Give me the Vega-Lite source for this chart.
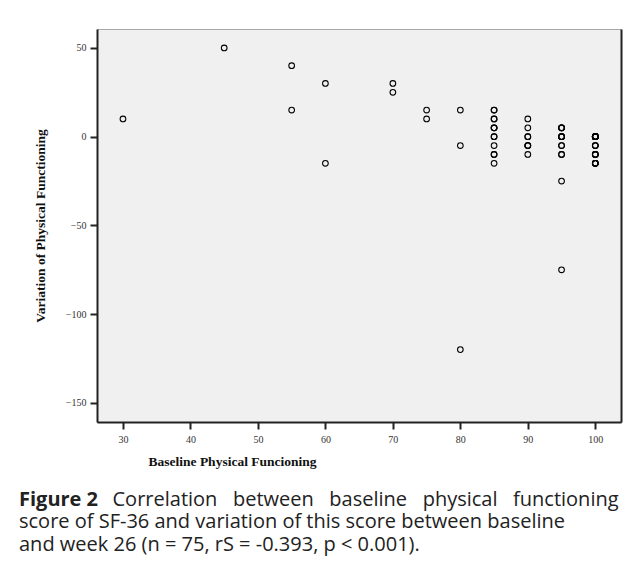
{
  "$schema": "https://vega.github.io/schema/vega-lite/v6.json",
  "width": 524,
  "height": 393,
  "autosize": {"type": "none"},
  "padding": {"left": 97, "top": 29, "right": 7, "bottom": 145},
  "background": "white",
  "config": {
    "view": {"fill": "#f0f0f0", "stroke": "#a8a8a8", "strokeWidth": 1}
  },
  "title": {
    "text": "Figure 2",
    "subtitle": [
      "\u200b\u00a0\u00a0\u00a0\u00a0\u00a0\u00a0\u00a0\u00a0\u00a0\u00a0\u00a0\u00a0\u00a0\u00a0\u00a0\u00a0\u00a0\u00a0Correlation \u00a0\u00a0between \u00a0\u00a0baseline \u00a0\u00a0physical \u00a0\u00a0functioning",
      "score of SF-36 and variation of this score between baseline",
      "and week 26 (n = 75, rS = -0.393, p < 0.001)."
    ],
    "orient": "bottom",
    "anchor": "start",
    "frame": "group",
    "dx": -78,
    "offset": 22,
    "font": "Open Sans",
    "fontSize": 20,
    "fontWeight": "bold",
    "color": "#222222",
    "subtitleFont": "Open Sans",
    "subtitleFontSize": 20,
    "subtitleFontWeight": "normal",
    "subtitleColor": "#222222",
    "subtitleLineHeight": 22.5,
    "subtitlePadding": -20
  },
  "data": {
    "values": [
      {"baseline": 30, "variation": 10},
      {"baseline": 45, "variation": 50},
      {"baseline": 55, "variation": 40},
      {"baseline": 55, "variation": 15},
      {"baseline": 60, "variation": 30},
      {"baseline": 60, "variation": -15},
      {"baseline": 70, "variation": 30},
      {"baseline": 70, "variation": 25},
      {"baseline": 75, "variation": 15},
      {"baseline": 75, "variation": 10},
      {"baseline": 80, "variation": 15},
      {"baseline": 80, "variation": -5},
      {"baseline": 80, "variation": -120},
      {"baseline": 85, "variation": 15},
      {"baseline": 85, "variation": 15},
      {"baseline": 85, "variation": 10},
      {"baseline": 85, "variation": 10},
      {"baseline": 85, "variation": 5},
      {"baseline": 85, "variation": 5},
      {"baseline": 85, "variation": 5},
      {"baseline": 85, "variation": 0},
      {"baseline": 85, "variation": 0},
      {"baseline": 85, "variation": -5},
      {"baseline": 85, "variation": -10},
      {"baseline": 85, "variation": -10},
      {"baseline": 85, "variation": -15},
      {"baseline": 90, "variation": 10},
      {"baseline": 90, "variation": 5},
      {"baseline": 90, "variation": 0},
      {"baseline": 90, "variation": 0},
      {"baseline": 90, "variation": -5},
      {"baseline": 90, "variation": -5},
      {"baseline": 90, "variation": -5},
      {"baseline": 90, "variation": -10},
      {"baseline": 95, "variation": 5},
      {"baseline": 95, "variation": 5},
      {"baseline": 95, "variation": 5},
      {"baseline": 95, "variation": 5},
      {"baseline": 95, "variation": 0},
      {"baseline": 95, "variation": 0},
      {"baseline": 95, "variation": 0},
      {"baseline": 95, "variation": 0},
      {"baseline": 95, "variation": -5},
      {"baseline": 95, "variation": -5},
      {"baseline": 95, "variation": -10},
      {"baseline": 95, "variation": -10},
      {"baseline": 95, "variation": -25},
      {"baseline": 95, "variation": -75},
      {"baseline": 100, "variation": 0},
      {"baseline": 100, "variation": 0},
      {"baseline": 100, "variation": 0},
      {"baseline": 100, "variation": 0},
      {"baseline": 100, "variation": 0},
      {"baseline": 100, "variation": 0},
      {"baseline": 100, "variation": 0},
      {"baseline": 100, "variation": 0},
      {"baseline": 100, "variation": 0},
      {"baseline": 100, "variation": 0},
      {"baseline": 100, "variation": 0},
      {"baseline": 100, "variation": 0},
      {"baseline": 100, "variation": 0},
      {"baseline": 100, "variation": 0},
      {"baseline": 100, "variation": 0},
      {"baseline": 100, "variation": -5},
      {"baseline": 100, "variation": -5},
      {"baseline": 100, "variation": -5},
      {"baseline": 100, "variation": -10},
      {"baseline": 100, "variation": -10},
      {"baseline": 100, "variation": -10},
      {"baseline": 100, "variation": -10},
      {"baseline": 100, "variation": -15},
      {"baseline": 100, "variation": -15},
      {"baseline": 100, "variation": -15},
      {"baseline": 100, "variation": -15},
      {"baseline": 100, "variation": -15}
    ]
  },
  "layer": [
    {
      "mark": {"type": "point", "shape": "circle", "filled": false, "size": 32, "strokeWidth": 1.1, "color": "#000000", "opacity": 1},
      "encoding": {
        "x": {
          "field": "baseline",
          "type": "quantitative",
          "scale": {"domain": [26.15, 103.81], "nice": false, "zero": false},
          "axis": {
            "values": [30, 40, 50, 60, 70, 80, 90, 100],
            "grid": false,
            "domainColor": "#222222",
            "domainWidth": 2,
            "tickColor": "#222222",
            "tickWidth": 2,
            "tickSize": 7,
            "labelFont": "Liberation Serif",
            "labelFontSize": 10,
            "labelColor": "#333333",
            "labelPadding": 5,
            "title": "Baseline Physical Funcioning",
            "titleFont": "Liberation Serif",
            "titleFontSize": 13.5,
            "titleFontWeight": "bold",
            "titleColor": "#111111",
            "titleAnchor": "start",
            "titleAlign": "left",
            "titleBaseline": "middle",
            "titleX": 51,
            "titleY": 39
          }
        },
        "y": {
          "field": "variation",
          "type": "quantitative",
          "scale": {"domain": [-160.8, 60.7], "nice": false, "zero": false},
          "axis": {
            "orient": "left",
            "values": [50, 0, -50, -100, -150],
            "grid": false,
            "domainColor": "#222222",
            "domainWidth": 2,
            "tickColor": "#222222",
            "tickWidth": 2,
            "tickSize": 7,
            "labelFont": "Liberation Serif",
            "labelFontSize": 10,
            "labelColor": "#333333",
            "labelPadding": 4,
            "title": "Variation of Physical Functioning",
            "titleFont": "Liberation Serif",
            "titleFontSize": 13.5,
            "titleFontWeight": "bold",
            "titleColor": "#111111",
            "titlePadding": 18
          }
        }
      }
    },
    {
      "mark": {"type": "point", "opacity": 0},
      "encoding": {
        "x": {"field": "baseline", "type": "quantitative"},
        "y": {
          "field": "variation",
          "type": "quantitative",
          "axis": {"orient": "right", "labels": false, "ticks": false, "grid": false, "title": null, "domainColor": "#222222", "domainWidth": 2}
        }
      }
    }
  ],
  "resolve": {"axis": {"y": "independent"}}
}
